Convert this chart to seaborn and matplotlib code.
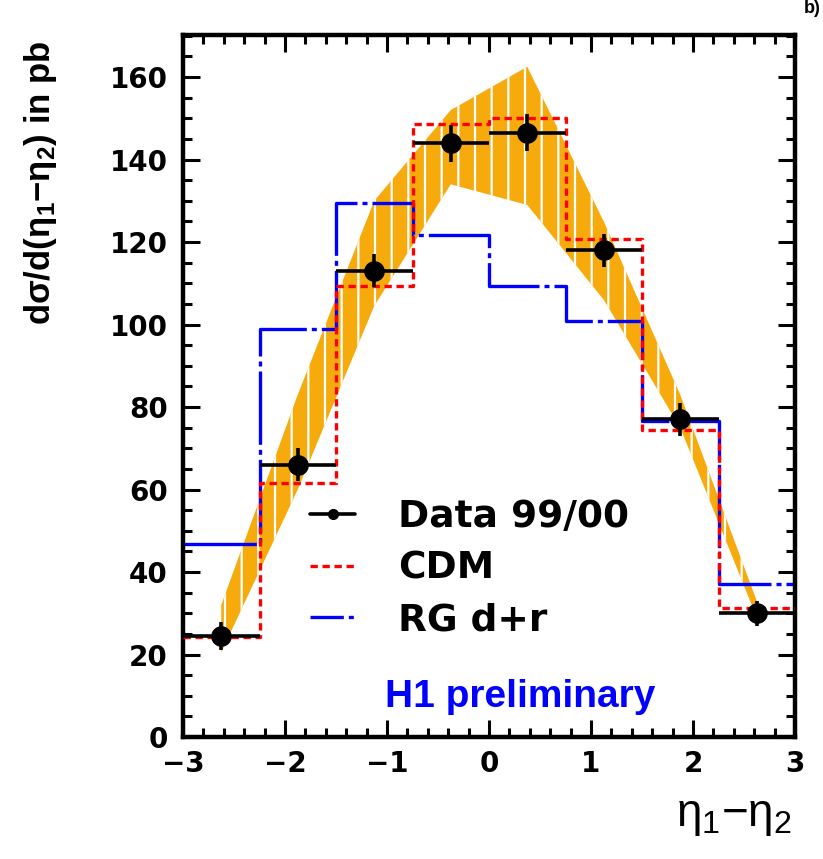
import numpy as np
import pandas as pd
import matplotlib
matplotlib.use("Agg")
import matplotlib.pyplot as plt
import matplotlib.transforms as mtransforms
import seaborn as sns
from matplotlib.lines import Line2D
from matplotlib.ticker import MultipleLocator

# ---------------- data ----------------
bin_edges = [-3.0, -2.25, -1.5, -0.75, 0.0, 0.75, 1.5, 2.25, 3.0]
bin_centers = [-2.625, -1.875, -1.125, -0.375, 0.375, 1.125, 1.875, 2.625]
data_values = [24.5, 66.0, 113.0, 144.0, 146.5, 118.0, 77.0, 30.0]
data_errors = [3.5, 4.0, 4.0, 4.5, 4.5, 4.0, 4.0, 3.0]
cdm_values = [24.3, 61.7, 109.4, 148.7, 150.0, 120.8, 74.4, 31.3]
rg_values = [46.7, 98.9, 129.5, 121.7, 109.4, 100.9, 76.6, 37.2]
band_upper = [32.0, 83.0, 130.0, 152.0, 162.5, 125.0, 83.0, 33.0]
band_lower = [20.5, 60.0, 104.5, 134.0, 129.0, 106.0, 75.0, 29.0]

legend_labels = ["Data 99/00", "CDM", "RG d+r"]
x_ticks = [-3, -2, -1, 0, 1, 2, 3]
x_tick_labels = ["\u22123", "\u22122", "\u22121", "0", "1", "2", "3"]
y_ticks = [0, 20, 40, 60, 80, 100, 120, 140, 160]

# ---------------- style ----------------
sns.set_theme(style="ticks")
plt.rcParams["font.family"] = ["Liberation Sans", "DejaVu Sans"]
plt.rcParams["mathtext.default"] = "regular"
plt.rcParams["hatch.linewidth"] = 1.6
for key in ["text.color", "axes.labelcolor", "xtick.color", "ytick.color",
            "axes.edgecolor"]:
    plt.rcParams[key] = "black"

WIDE = ["DejaVu Sans"]

fig = plt.figure(figsize=(8.23, 8.59), dpi=100)
ax = fig.add_axes([183 / 823, (859 - 737) / 859, 612 / 823, 702 / 859])
ax.set_facecolor("white")

# band (theory uncertainty)
ax.fill_between(bin_centers, band_lower, band_upper, facecolor="#F6AA0C",
                edgecolor="white", linewidth=0, hatch="|", zorder=1)

# step lines
steps = pd.DataFrame({
    "x": bin_edges,
    "cdm": cdm_values + [cdm_values[-1]],
    "rg": rg_values + [rg_values[-1]],
})
sns.lineplot(data=steps, x="x", y="rg", ax=ax, color="#0000FF", lw=2.4,
             drawstyle="steps-post", zorder=2, sort=False)
ax.lines[-1].set_linestyle((0, (22, 1.5, 1.5, 1.5)))
sns.lineplot(data=steps, x="x", y="cdm", ax=ax, color="#FF0000", lw=2.4,
             drawstyle="steps-post", zorder=3, sort=False)
ax.lines[-1].set_linestyle((0, (2.2, 1.4)))

# data points
half_w = [(bin_edges[i + 1] - bin_edges[i]) / 2 for i in range(len(bin_centers))]
ax.errorbar(bin_centers, data_values, xerr=half_w, yerr=data_errors,
            fmt="none", ecolor="black", elinewidth=2.6, capsize=0, zorder=4)
pts = pd.DataFrame({"x": bin_centers, "y": data_values})
sns.scatterplot(data=pts, x="x", y="y", ax=ax, color="black", s=220,
                edgecolor="black", linewidth=0, zorder=5)

# axes
ax.set_xlim(-3, 3)
ax.set_ylim(0, 170.2)
ax.set_xticks(x_ticks)
ax.set_yticks(y_ticks)
ax.set_xticklabels(x_tick_labels)
ax.xaxis.set_minor_locator(MultipleLocator(0.2))
ax.yaxis.set_minor_locator(MultipleLocator(5))
ax.tick_params(which="both", direction="in", top=True, right=True, width=2.2,
               colors="black")
ax.tick_params(which="major", length=12, labelsize=20)
ax.tick_params(axis="x", which="major", pad=9)
ax.tick_params(axis="y", which="major", pad=11)
ax.tick_params(which="minor", length=6.5)
for lab in ax.get_xticklabels() + ax.get_yticklabels():
    lab.set_fontweight("bold")
    lab.set_family(WIDE)
for sp in ax.spines.values():
    sp.set_linewidth(3.2)
    sp.set_color("black")
ax.set_xlabel("")
ax.set_ylabel("")

# y label
fig.text(41 / 823, 1 - 40 / 859, "d\u03c3/d(\u03b7$_1$\u2212\u03b7$_2$) in pb",
         rotation=90, ha="center", va="top", fontsize=25, fontweight="bold",
         color="black")
# x label
fig.text(792 / 823, 1 - 816 / 859, "\u03b7$_1$\u2212\u03b7$_2$",
         ha="right", va="center", fontsize=33, color="black")

# legend
handles = [
    Line2D([0], [0], color="black", lw=2.6, marker="o", markersize=7),
    Line2D([0], [0], color="#FF0000", lw=2.4, linestyle=(0, (2.2, 1.4))),
    Line2D([0], [0], color="#0000FF", lw=2.4, linestyle=(0, (10, 1.5, 1.5, 1.5))),
]
leg = ax.legend(handles, legend_labels, loc="upper left",
                bbox_to_anchor=((310 - 183) / 612, (737 - 499) / 702),
                frameon=False, prop={"family": WIDE, "weight": "bold", "size": 27},
                handlelength=1.2, handletextpad=1.15, labelspacing=0.42,
                borderpad=0, borderaxespad=0)
for txt in leg.get_texts():
    txt.set_color("black")

t = ax.text(385, 859 - 697, "H1 preliminary", color="#0000FF",
            fontsize=28, fontweight="bold", ha="left", va="center")
t.set_transform(mtransforms.IdentityTransform())

# panel label at the top right (mostly cropped in the reference)
fig.text(812 / 823, 1.0, "b)", ha="center", va="top", fontsize=13,
         fontweight="bold", color="black")

fig.savefig("out.png", dpi=100, facecolor="white")
